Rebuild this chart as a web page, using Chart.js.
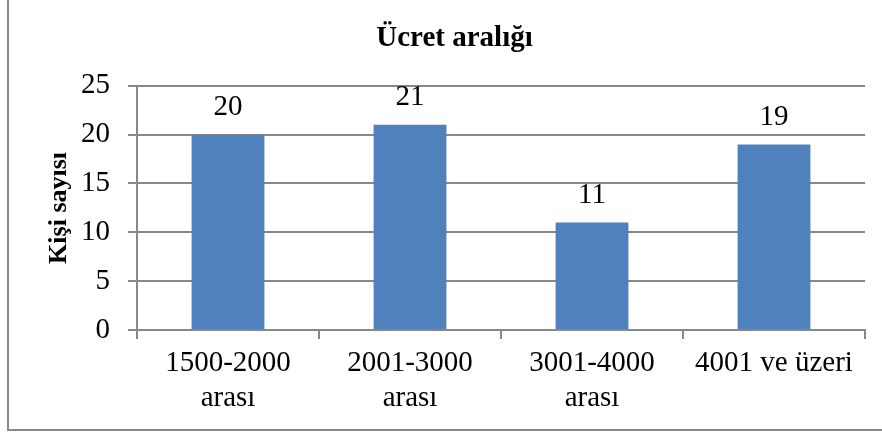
<!DOCTYPE html>
<html>
<head>
  <title>Ücret aralığı</title>
  <script src="https://cdn.jsdelivr.net/npm/chart.js"></script>
  <style>
    body { margin: 0; background: #fff; }
  </style>
</head>
<body>
<canvas id="myChart" width="882" height="434"></canvas>

<script>
  const categories = [['1500-2000', 'arası'], ['2001-3000', 'arası'], ['3001-4000', 'arası'], '4001 ve üzeri'];
  const counts = [20, 21, 11, 19];
  const yTicks = [0, 5, 10, 15, 20, 25];

  const serif = '"Liberation Serif", "Times New Roman", serif';
  const gridColor = '#888888';

  // frame lines on the left and bottom edge
  const framePlugin = {
    id: 'frame',
    beforeDraw(chart) {
      const ctx = chart.ctx;
      ctx.save();
      ctx.fillStyle = '#fff';
      ctx.fillRect(0, 0, chart.width, chart.height);
      ctx.fillStyle = gridColor;
      ctx.fillRect(7, 0, 2, 431);
      ctx.fillRect(7, 429, chart.width - 7, 2);
      ctx.restore();
    }
  };

  // values written above the bars
  const valueLabels = {
    id: 'valueLabels',
    afterDatasetsDraw(chart) {
      const ctx = chart.ctx;
      ctx.save();
      ctx.font = '29px ' + serif;
      ctx.fillStyle = '#000';
      ctx.textAlign = 'center';
      ctx.textBaseline = 'middle';
      chart.getDatasetMeta(0).data.forEach((bar, i) => {
        ctx.fillText(counts[i], bar.x, bar.y - 27);
      });
      ctx.restore();
    }
  };

  new Chart(document.getElementById('myChart'), {
    type: 'bar',
    data: {
      labels: categories,
      datasets: [{
        data: counts,
        backgroundColor: '#4F81BD',
        barPercentage: 0.4,
        categoryPercentage: 1
      }]
    },
    options: {
      responsive: false,
      animation: false,
      layout: { padding: { left: 44, right: 17, top: 0, bottom: 4 } },
      plugins: {
        legend: { display: false },
        tooltip: { enabled: false },
        title: {
          display: true,
          text: 'Ücret aralığı',
          color: '#000',
          font: { family: serif, size: 29, weight: 'bold' },
          padding: { top: 21, bottom: 30 }
        }
      },
      scales: {
        x: {
          afterFit(scale) { scale.height = 100; },
          border: { color: gridColor, width: 2 },
          grid: { drawOnChartArea: false, color: gridColor, tickLength: 9, lineWidth: 2 },
          ticks: { color: '#000', padding: 7, font: { family: serif, size: 29, lineHeight: 1.2 }, maxRotation: 0 }
        },
        y: {
          min: 0,
          max: 25,
          afterFit(scale) { scale.width = 93; },
          afterBuildTicks(scale) { scale.ticks = yTicks.map(v => ({ value: v })); },
          border: { color: gridColor, width: 2 },
          grid: { color: gridColor, tickLength: 9, lineWidth: 2 },
          ticks: { color: '#000', padding: 18, font: { family: serif, size: 29 } },
          title: {
            display: true,
            text: 'Kişi sayısı',
            color: '#000',
            font: { family: serif, size: 26, weight: 'bold' },
            padding: { top: 0, bottom: 0 }
          }
        }
      }
    },
    plugins: [framePlugin, valueLabels]
  });
</script>
</body>
</html>
